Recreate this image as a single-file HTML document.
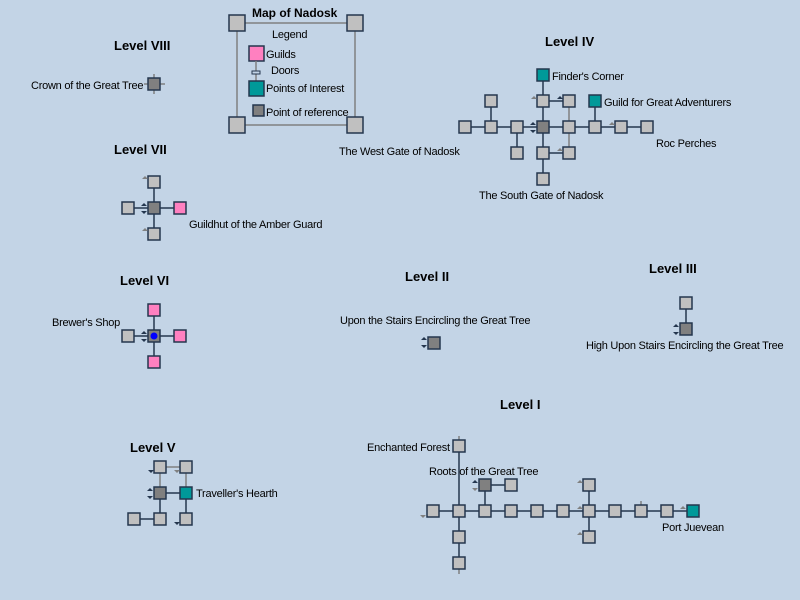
<!DOCTYPE html>
<html><head><meta charset="utf-8"><style>
html,body{margin:0;padding:0;background:#c3d4e6;}
svg{display:block;}
text{font-family:"Liberation Sans",sans-serif;font-size:11px;fill:#000;letter-spacing:-0.25px;}
.t{font-weight:bold;font-size:13px;letter-spacing:0;}
.r{fill:#c0c0c0;stroke:#24364e;stroke-width:1.5;}
.d{fill:#808080;stroke:#24364e;stroke-width:1.5;}
.p{fill:#ff80c0;stroke:#24364e;stroke-width:1.5;}
.g{fill:#009999;stroke:#24364e;stroke-width:1.5;}
.l{stroke:#24364e;stroke-width:1.5;fill:none;}
.s{stroke:#808080;stroke-width:1.5;fill:none;}
.ua{fill:#24364e;} .ga{fill:#808080;}
</style></head><body>
<svg width="800" height="600" viewBox="0 0 800 600" xmlns="http://www.w3.org/2000/svg">
<defs>
<g id="up"><path d="M-3,1 L3,1 L0,-2Z"/></g>
</defs>
<!-- Legend -->
<path class="s" d="M245,23H347M237,31V117M355,31V117M245,125H347"/>
<rect class="r" x="229" y="15" width="16" height="16"/>
<rect class="r" x="347" y="15" width="16" height="16"/>
<rect class="r" x="229" y="117" width="16" height="16"/>
<rect class="r" x="347" y="117" width="16" height="16"/>
<text class="t" x="252" y="17" style="font-size:12px">Map of Nadosk</text>
<text x="272" y="38">Legend</text>
<rect class="p" x="249" y="46" width="15" height="15"/>
<text x="266" y="58">Guilds</text>
<path class="s" d="M256,61V81"/>
<rect x="252" y="71" width="8" height="3" fill="#c3d4e6" stroke="#24364e"/>
<text x="271" y="74">Doors</text>
<rect class="g" x="249" y="81" width="15" height="15"/>
<text x="266" y="92">Points of Interest</text>
<rect class="d" x="253" y="105" width="11" height="11"/>
<text x="266" y="116">Point of reference</text>

<!-- Level VIII -->
<text class="t" x="114" y="50">Level VIII</text>
<path class="s" d="M154,74V94M144,84H165"/>
<rect class="d" x="148" y="78" width="12" height="12"/>
<text x="31" y="89">Crown of the Great Tree</text>

<!-- Level VII -->
<text class="t" x="114" y="154">Level VII</text>
<path class="l" d="M154,182V234M128,208H180"/>
<rect class="r" x="148" y="176" width="12" height="12"/>
<rect class="d" x="148" y="202" width="12" height="12"/>
<rect class="r" x="148" y="228" width="12" height="12"/>
<rect class="r" x="122" y="202" width="12" height="12"/>
<rect class="p" x="174" y="202" width="12" height="12"/>
<use href="#up" x="145" y="178" class="ga"/><use href="#up" x="145" y="230" class="ga"/>
<use href="#up" x="144" y="205" class="ua"/><path class="ua" d="M141,211H147L144,214Z"/>
<text x="189" y="228">Guildhut of the Amber Guard</text>

<!-- Level VI -->
<text class="t" x="120" y="285">Level VI</text>
<path class="l" d="M154,310V362M128,336H180"/>
<rect class="p" x="148" y="304" width="12" height="12"/>
<rect class="d" x="148" y="330" width="12" height="12"/>
<circle cx="154" cy="336" r="3.5" fill="#0000ff"/>
<rect class="p" x="148" y="356" width="12" height="12"/>
<rect class="r" x="122" y="330" width="12" height="12"/>
<rect class="p" x="174" y="330" width="12" height="12"/>
<use href="#up" x="144" y="333" class="ua"/><path class="ua" d="M141,339H147L144,342Z"/>
<text x="52" y="326">Brewer's Shop</text>

<!-- Level V -->
<text class="t" x="130" y="452">Level V</text>
<path class="l" d="M160,493V519M134,519H160M186,493V519M160,493H186"/>
<path class="s" d="M160,467H186M160,467V493M186,467V493"/>
<rect class="r" x="154" y="461" width="12" height="12"/>
<rect class="r" x="180" y="461" width="12" height="12"/>
<rect class="d" x="154" y="487" width="12" height="12"/>
<rect class="g" x="180" y="487" width="12" height="12"/>
<rect class="r" x="128" y="513" width="12" height="12"/>
<rect class="r" x="154" y="513" width="12" height="12"/>
<rect class="r" x="180" y="513" width="12" height="12"/>
<path class="ua" d="M148,470H154L151,473Z"/><path class="ga" d="M174,470H180L177,473Z"/>
<use href="#up" x="150" y="490" class="ua"/><path class="ua" d="M147,496H153L150,499Z"/>
<path class="ua" d="M174,522H180L177,525Z"/>
<text x="196" y="497">Traveller's Hearth</text>

<!-- Level IV -->
<text class="t" x="545" y="46">Level IV</text>
<path class="l" d="M465,127H647M491,101V127M543,75V179M517,127V153M595,101V127M543,153H569M543,101H569"/>
<path class="s" d="M569,101V153"/>
<rect class="g" x="537" y="69" width="12" height="12"/>
<rect class="r" x="485" y="95" width="12" height="12"/>
<rect class="r" x="537" y="95" width="12" height="12"/>
<rect class="r" x="563" y="95" width="12" height="12"/>
<rect class="g" x="589" y="95" width="12" height="12"/>
<rect class="r" x="459" y="121" width="12" height="12"/>
<rect class="r" x="485" y="121" width="12" height="12"/>
<rect class="r" x="511" y="121" width="12" height="12"/>
<rect class="d" x="537" y="121" width="12" height="12"/>
<rect class="r" x="563" y="121" width="12" height="12"/>
<rect class="r" x="589" y="121" width="12" height="12"/>
<rect class="r" x="615" y="121" width="12" height="12"/>
<rect class="r" x="641" y="121" width="12" height="12"/>
<rect class="r" x="511" y="147" width="12" height="12"/>
<rect class="r" x="537" y="147" width="12" height="12"/>
<rect class="r" x="563" y="147" width="12" height="12"/>
<rect class="r" x="537" y="173" width="12" height="12"/>
<use href="#up" x="534" y="98" class="ga"/><use href="#up" x="560" y="98" class="ua"/>
<use href="#up" x="533" y="124" class="ua"/><path class="ua" d="M530,130H536L533,133Z"/>
<use href="#up" x="612" y="124" class="ga"/><use href="#up" x="560" y="150" class="ga"/>
<text x="552" y="80">Finder's Corner</text>
<text x="604" y="106">Guild for Great Adventurers</text>
<text x="339" y="155">The West Gate of Nadosk</text>
<text x="656" y="147">Roc Perches</text>
<text x="479" y="199">The South Gate of Nadosk</text>

<!-- Level II -->
<text class="t" x="405" y="281">Level II</text>
<text x="340" y="324">Upon the Stairs Encircling the Great Tree</text>
<rect class="d" x="428" y="337" width="12" height="12"/>
<use href="#up" x="424" y="339" class="ua"/><path class="ua" d="M421,345H427L424,348Z"/>

<!-- Level III -->
<text class="t" x="649" y="273">Level III</text>
<path class="l" d="M686,303V329"/>
<rect class="r" x="680" y="297" width="12" height="12"/>
<rect class="d" x="680" y="323" width="12" height="12"/>
<use href="#up" x="676" y="326" class="ua"/><path class="ua" d="M673,332H679L676,335Z"/>
<text x="586" y="349">High Upon Stairs Encircling the Great Tree</text>

<!-- Level I -->
<text class="t" x="500" y="409">Level I</text>
<path class="l" d="M433,511H693M459,446V563M485,485V511M485,485H511M589,485V537"/>
<path class="s" d="M459,436V446M459,563V574M641,501V511"/>
<rect class="r" x="453" y="440" width="12" height="12"/>
<rect class="d" x="479" y="479" width="12" height="12"/>
<rect class="r" x="505" y="479" width="12" height="12"/>
<rect class="r" x="583" y="479" width="12" height="12"/>
<rect class="r" x="427" y="505" width="12" height="12"/>
<rect class="r" x="453" y="505" width="12" height="12"/>
<rect class="r" x="479" y="505" width="12" height="12"/>
<rect class="r" x="505" y="505" width="12" height="12"/>
<rect class="r" x="531" y="505" width="12" height="12"/>
<rect class="r" x="557" y="505" width="12" height="12"/>
<rect class="r" x="583" y="505" width="12" height="12"/>
<rect class="r" x="609" y="505" width="12" height="12"/>
<rect class="r" x="635" y="505" width="12" height="12"/>
<rect class="r" x="661" y="505" width="12" height="12"/>
<rect class="g" x="687" y="505" width="12" height="12"/>
<rect class="r" x="453" y="531" width="12" height="12"/>
<rect class="r" x="583" y="531" width="12" height="12"/>
<rect class="r" x="453" y="557" width="12" height="12"/>
<use href="#up" x="475" y="482" class="ua"/><path class="ga" d="M472,488H478L475,491Z"/>
<path class="ga" d="M420,515H426L423,518Z"/>
<use href="#up" x="580" y="482" class="ga"/><use href="#up" x="580" y="508" class="ga"/>
<use href="#up" x="580" y="534" class="ga"/><use href="#up" x="683" y="508" class="ga"/>
<text x="367" y="451">Enchanted Forest</text>
<text x="429" y="475">Roots of the Great Tree</text>
<text x="662" y="531">Port Juevean</text>
</svg>
</body></html>
